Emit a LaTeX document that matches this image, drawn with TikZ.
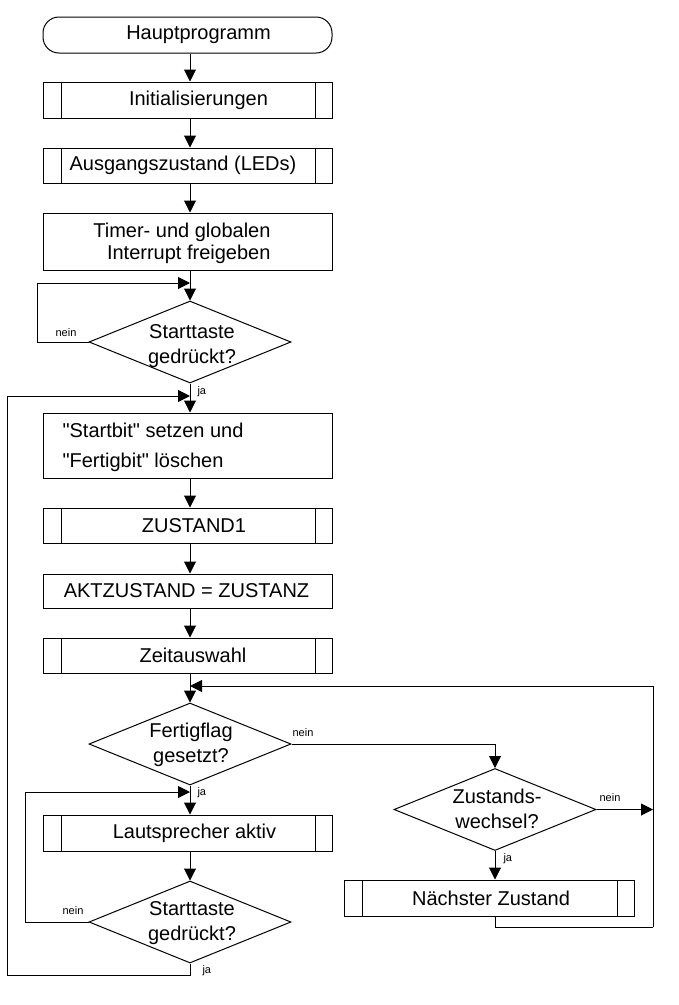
\documentclass[tikz,border=0pt]{standalone}
\usepackage{fontspec}
\setmainfont{Liberation Sans}[Ligatures=TeXOff]
\usetikzlibrary{arrows.meta,shapes.geometric}
\begin{document}
\begin{tikzpicture}[x=1pt,y=-1pt,line width=1pt,
  every node/.style={inner sep=0pt},
  txt/.style={font=\fontsize{20}{24}\selectfont},
  lbl/.style={font=\fontsize{11}{13}\selectfont},
  box/.style={draw, rectangle, minimum width=289pt},
  sub/.style={box, path picture={
    \draw ([xshift=18.5pt]path picture bounding box.north west) -- ([xshift=18.5pt]path picture bounding box.south west);
    \draw ([xshift=-17pt]path picture bounding box.north east) -- ([xshift=-17pt]path picture bounding box.south east);}},
  term/.style={draw, rectangle, rounded corners=16pt, minimum width=289pt, minimum height=36pt},
  dia/.style={draw, diamond, minimum width=202pt, minimum height=82pt},
  arr/.style={-{Triangle[length=12pt,width=12pt]}}]
\useasboundingbox (0,0) rectangle (679,1005);
\fill[white] (0,0) rectangle (679,1005);
\coordinate (col) at (190,0);
\coordinate (rcol) at (495,0);
% nodes
\node[term] (start) at (187.5,35) {};
\node[txt] (startt) at (198.5,35) {Hauptprogramm};
\node[sub, minimum height=36pt] (init) at (187.5,100) {};
\node[txt] (initt) at (198.5,100) {Initialisierungen};
\node[sub, minimum height=35pt] (ausg) at (187.5,165.5) {};
\node[txt] (ausgt) at (183,165.5) {Ausgangszustand (LEDs)};
\node[box, minimum height=57pt] (timer) at (187.5,241.5) {};
\node[txt, align=right, anchor=east, font=\fontsize{20}{22}\selectfont] (timert) at (271,243) {Timer- und globalen\\Interrupt freigeben};
\node[dia] (d1) at (190,342) {};
\node[txt, align=center, font=\fontsize{20}{25}\selectfont] (d1t) at (192,346) {Starttaste\\gedrückt?};
\node[box, minimum height=65pt] (sb) at (187.5,445.5) {};
\node[txt, align=left, anchor=west, font=\fontsize{20}{30}\selectfont] (sbt) at (62,447) {"Startbit" setzen und\\"Fertigbit" löschen};
\node[sub, minimum height=35pt] (z1) at (187.5,525.5) {};
\node[txt] (z1t) at (194,525.5) {ZUSTAND1};
\node[box, minimum height=34pt] (akt) at (187.5,591) {};
\node[txt] (aktt) at (186.5,591) {AKTZUSTAND = ZUSTANZ};
\node[sub, minimum height=35pt] (zeit) at (187.5,655.5) {};
\node[txt] (zeitt) at (193,655.5) {Zeitauswahl};
\node[dia] (d2) at (190,744) {};
\node[txt, align=center, font=\fontsize{20}{25}\selectfont] (d2t) at (191,745) {Fertigflag\\gesetzt?};
\node[sub, minimum height=36pt] (laut) at (187.5,833) {};
\node[txt] (lautt) at (194.5,833) {Lautsprecher aktiv};
\node[dia] (d3) at (190,922) {};
\node[txt, align=center, font=\fontsize{20}{25}\selectfont] (d3t) at (192,923) {Starttaste\\gedrückt?};
\node[dia] (d4) at (495,809.5) {};
\node[txt, align=center, font=\fontsize{20}{25}\selectfont] (d4t) at (497,809) {Zustands-\\wechsel?};
\node[sub, minimum width=290pt, minimum height=36pt] (nz) at (489,898) {};
\node[txt] (nzt) at (491,898) {Nächster Zustand};
% helper coordinates
\coordinate (j1) at (190,283); \coordinate (l1) at (37,283);
\coordinate (j2) at (190,396); \coordinate (b1) at (7,975);
\coordinate (j3) at (190,686); \coordinate (r2) at (653,927);
\coordinate (j4) at (190,792); \coordinate (l4) at (25,792);
% connectors
\draw[arr] (start.south -| col) -- (init.north -| col);
\draw[arr] (init.south -| col) -- (ausg.north -| col);
\draw[arr] (ausg.south -| col) -- (timer.north -| col);
\draw[arr] (timer.south -| col) -- (d1.north);
\draw (d1.west) -| (l1);
\draw[arr] (l1) -- (j1);
\draw[arr] (d1.south) -- (sb.north -| col);
\draw[arr] (sb.south -| col) -- (z1.north -| col);
\draw[arr] (z1.south -| col) -- (akt.north -| col);
\draw[arr] (akt.south -| col) -- (zeit.north -| col);
\draw[arr] (zeit.south -| col) -- (d2.north);
\draw[arr] (d2.south) -- (laut.north -| col);
\draw[arr] (laut.south -| col) -- (d3.north);
\draw (d3.west) -| (l4);
\draw[arr] (l4) -- (j4);
\draw (d3.south) |- (b1);
\draw[arr] (b1) |- (j2);
\draw[arr] (d2.east) -| (d4.north);
\draw[arr] (d4.east) -- (d4.east -| r2);
\draw[arr] (d4.south) -- (nz.north -| rcol);
\draw (nz.south -| rcol) |- (r2);
\draw[arr] (r2) |- (j3);
% labels
\node[lbl] (n1) at (66,333) {nein};
\node[lbl, anchor=west] (y1) at (197,392) {ja};
\node[lbl] (n2) at (303,733) {nein};
\node[lbl, anchor=west] (y2) at (197,793) {ja};
\node[lbl] (n3) at (73,911) {nein};
\node[lbl, anchor=west] (y3) at (202,971) {ja};
\node[lbl] (n4) at (610,798) {nein};
\node[lbl, anchor=west] (y4) at (503,859) {ja};
\end{tikzpicture}
\end{document}
